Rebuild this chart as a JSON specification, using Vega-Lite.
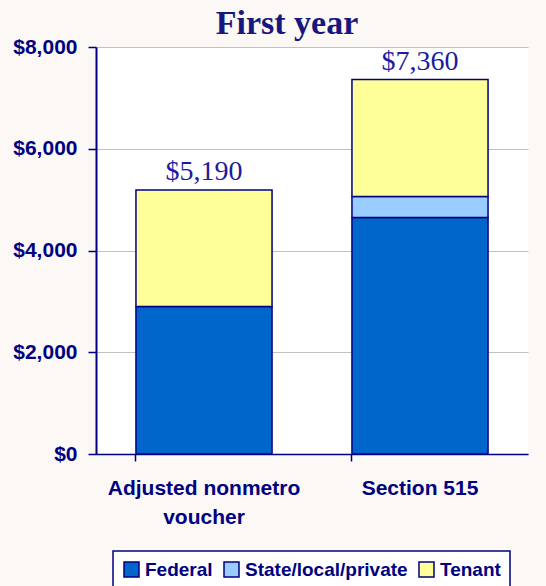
{
  "$schema": "https://vega.github.io/schema/vega-lite/v6.json",
  "autosize": {"type": "none"},
  "padding": {"left": 96, "top": 47, "right": 18, "bottom": 132},
  "width": 432,
  "height": 407,
  "background": "#fbf8f6",
  "view": {"fill": "white", "stroke": null},
  "title": {
    "text": "First year",
    "font": "Liberation Serif",
    "fontSize": 34,
    "fontWeight": "bold",
    "color": "#17177f",
    "anchor": "middle",
    "frame": "group",
    "baseline": "alphabetic",
    "offset": 13,
    "dx": -25,
    "dy": 45
  },
  "data": {
    "values": [
      {"program": "Adjusted nonmetro voucher", "source": "Federal", "amount": 2900},
      {"program": "Adjusted nonmetro voucher", "source": "Tenant", "amount": 2290},
      {"program": "Section 515", "source": "Federal", "amount": 4650},
      {"program": "Section 515", "source": "State/local/private", "amount": 410},
      {"program": "Section 515", "source": "Tenant", "amount": 2300}
    ]
  },
  "layer": [
    {
      "mark": {"type": "bar", "stroke": "#000080", "strokeWidth": 1.5},
      "encoding": {
        "x": {
          "field": "program",
          "type": "nominal",
          "sort": ["Adjusted nonmetro voucher", "Section 515"],
          "scale": {"paddingInner": 0.37, "paddingOuter": 0.185},
          "axis": {
            "title": null,
            "labelAngle": 0,
            "bandPosition": 0,
            "domainColor": "#000080",
            "domainWidth": 1.5,
            "tickColor": "#000080",
            "tickWidth": 1.5,
            "tickSize": 7,
            "labelPadding": 16,
            "labelLimit": 0,
            "labelFont": "Liberation Sans",
            "labelFontSize": 21,
            "labelFontWeight": "bold",
            "labelColor": "#000080",
            "labelLineHeight": 29,
            "labelExpr": "datum.label == 'Adjusted nonmetro voucher' ? ['Adjusted nonmetro', 'voucher'] : datum.label"
          }
        },
        "y": {
          "field": "amount",
          "type": "quantitative",
          "aggregate": "sum",
          "stack": "zero",
          "scale": {"domain": [0, 8000], "nice": false},
          "axis": {
            "title": null,
            "values": [0, 2000, 4000, 6000, 8000],
            "format": "$,.0f",
            "domainColor": "#000080",
            "domainWidth": 2,
            "tickColor": "#000080",
            "tickWidth": 1.5,
            "tickSize": 8,
            "labelPadding": 11,
            "labelFont": "Liberation Sans",
            "labelFontSize": 21,
            "labelFontWeight": "bold",
            "labelColor": "#000080",
            "gridColor": "#c0c0c0",
            "gridWidth": 1.2
          }
        },
        "order": {"field": "source", "type": "nominal", "sort": "ascending"},
        "color": {
          "field": "source",
          "type": "nominal",
          "scale": {
            "domain": ["Federal", "State/local/private", "Tenant"],
            "range": ["#0066cc", "#99ccff", "#ffff99"]
          },
          "legend": {
            "title": null,
            "orient": "none",
            "legendX": 17,
            "legendY": 504,
            "direction": "horizontal",
            "symbolType": "square",
            "symbolSize": 225,
            "symbolStrokeColor": "#000080",
            "symbolStrokeWidth": 1.5,
            "symbolOpacity": 1,
            "labelFont": "Liberation Sans",
            "labelFontSize": 19,
            "labelFontWeight": "bold",
            "labelColor": "#000080",
            "labelLimit": 0,
            "labelOffset": 4,
            "columnPadding": 8,
            "padding": 9,
            "strokeColor": "#000080",
            "fillColor": "white",
            "encode": {"legend": {"update": {"strokeWidth": {"value": 1.5}}}}
          }
        }
      }
    },
    {
      "transform": [
        {"aggregate": [{"op": "sum", "field": "amount", "as": "total"}], "groupby": ["program"]}
      ],
      "mark": {
        "type": "text",
        "font": "Liberation Serif",
        "fontSize": 28,
        "color": "#1c1c9c",
        "baseline": "alphabetic",
        "dy": -10
      },
      "encoding": {
        "x": {"field": "program", "type": "nominal", "sort": ["Adjusted nonmetro voucher", "Section 515"]},
        "y": {"field": "total", "type": "quantitative"},
        "text": {"field": "total", "type": "quantitative", "format": "$,.0f"}
      }
    }
  ]
}
